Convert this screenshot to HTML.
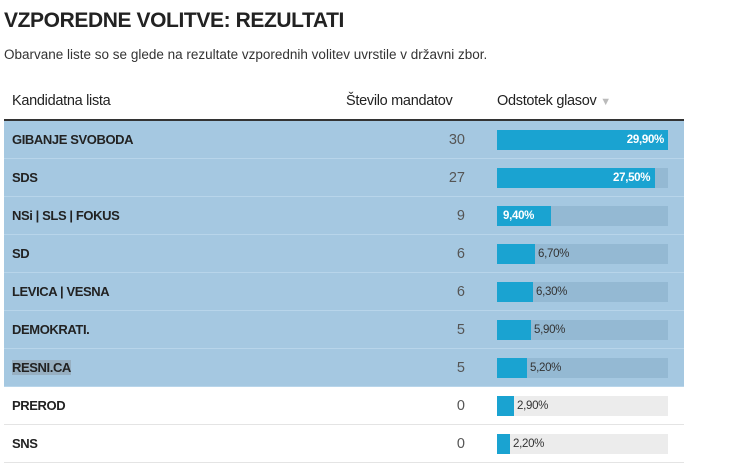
<!DOCTYPE html>
<html><head><meta charset="utf-8"><style>
body{margin:0;width:735px;height:458px;background:#fff;font-family:"Liberation Sans",sans-serif;color:#222;position:relative;overflow:hidden}
.t{position:absolute;left:4px;top:9px;font-size:21px;font-weight:bold;letter-spacing:-0.4px}
.s{position:absolute;left:4px;top:47px;font-size:13.5px;color:#333}
.h{position:absolute;top:93px;font-size:14.5px;color:#222;letter-spacing:-0.3px}
.line{position:absolute;left:4px;top:119px;width:680px;height:2px;background:#333}
.r{position:absolute;left:4px;width:680px;height:38px;border-bottom:1px solid #e4e4e4;box-sizing:border-box}
.r.hl{background:#a5c8e1;border-bottom:1px solid #b8d5ea}
.n{position:absolute;left:8px;top:11px;font-size:13px;font-weight:bold;letter-spacing:-0.4px}
.m{position:absolute;right:219px;top:11px;font-size:14.5px;color:#555}
.tr{position:absolute;left:493px;top:9px;width:171px;height:20px;background:#ececec}
.hl .tr{background:#94b9d3}
.b{position:absolute;left:0;top:0;height:20px;background:#1aa3d1}
.v{position:absolute;top:4px;font-size:11.5px;color:#333;letter-spacing:-0.3px}
.in{color:#fff;font-weight:bold}
</style></head><body>
<div class="t">VZPOREDNE VOLITVE: REZULTATI</div>
<div class="s">Obarvane liste so se glede na rezultate vzporednih volitev uvrstile v državni zbor.</div>
<div class="h" style="left:12px">Kandidatna lista</div>
<div class="h" style="left:346px">Število mandatov</div>
<div class="h" style="left:497px">Odstotek glasov <span style="color:#bbb;font-size:11px">▼</span></div>
<div class="line"></div>

<div class="r hl" style="top:121px"><div class="n">GIBANJE SVOBODA</div><div class="m">30</div><div class="tr"><div class="b" style="width:171px"></div><div class="v in" style="right:4px">29,90%</div></div></div>
<div class="r hl" style="top:159px"><div class="n">SDS</div><div class="m">27</div><div class="tr"><div class="b" style="width:158px"></div><div class="v in" style="left:116px">27,50%</div></div></div>
<div class="r hl" style="top:197px"><div class="n">NSi | SLS | FOKUS</div><div class="m">9</div><div class="tr"><div class="b" style="width:54px"></div><div class="v in" style="left:6px">9,40%</div></div></div>
<div class="r hl" style="top:235px"><div class="n">SD</div><div class="m">6</div><div class="tr"><div class="b" style="width:38px"></div><div class="v" style="left:41px">6,70%</div></div></div>
<div class="r hl" style="top:273px"><div class="n">LEVICA | VESNA</div><div class="m">6</div><div class="tr"><div class="b" style="width:36px"></div><div class="v" style="left:39px">6,30%</div></div></div>
<div class="r hl" style="top:311px"><div class="n">DEMOKRATI.</div><div class="m">5</div><div class="tr"><div class="b" style="width:34px"></div><div class="v" style="left:37px">5,90%</div></div></div>
<div class="r hl" style="top:349px"><div class="n" style="background:rgba(120,120,120,.3)">RESNI.CA</div><div class="m">5</div><div class="tr"><div class="b" style="width:30px"></div><div class="v" style="left:33px">5,20%</div></div></div>
<div class="r" style="top:387px"><div class="n">PREROD</div><div class="m">0</div><div class="tr"><div class="b" style="width:17px"></div><div class="v" style="left:20px">2,90%</div></div></div>
<div class="r" style="top:425px"><div class="n">SNS</div><div class="m">0</div><div class="tr"><div class="b" style="width:13px"></div><div class="v" style="left:16px">2,20%</div></div></div>
</body></html>
